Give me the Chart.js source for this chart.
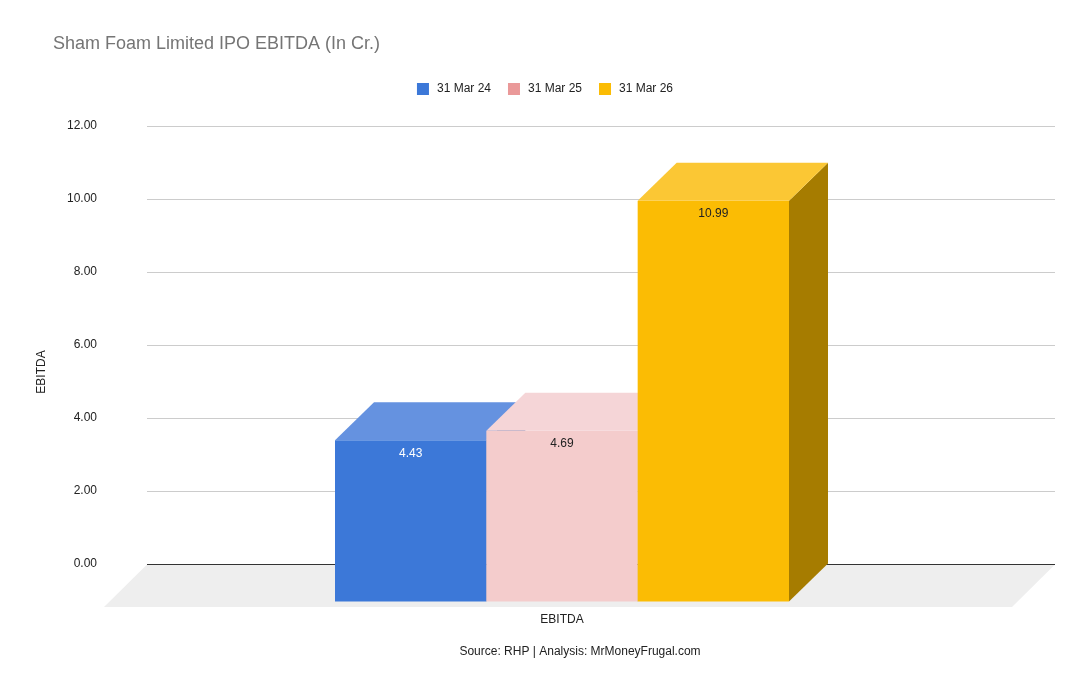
<!DOCTYPE html>
<html lang="en">
<head>
    <meta charset="UTF-8">
    <title>Sham Foam Limited IPO EBITDA</title>
    <style>
        body {
            margin: 0;
            background-color: #fff;
        }
        #chart-container {
            width: 1090px;
            height: 694px;
        }
    </style>
    <script src="https://cdn.jsdelivr.net/npm/chart.js"></script>
</head>
<body>
    <div id="chart-container">
        <canvas id="ebitda-chart"></canvas>
    </div>
    <script>
        const categories = ['EBITDA'];
        const seriesLabels = ['31 Mar 24', '31 Mar 25', '31 Mar 26'];
        const ebitda = [4.43, 4.69, 10.99];
        const yTicks = [0, 2, 4, 6, 8, 10, 12];

        const legendColors = ['#3c78d8', '#ea9999', '#fbbc04'];
        const frontColors = ['#3c78d8', '#f4cccc', '#fbbc04'];
        const topColors = ['#6592e0', '#f5d5d7', '#fbc734'];
        const sideColors = ['#2b5cad', '#9a8a8a', '#a67c00'];
        const labelColors = ['#ffffff', '#222222', '#222222'];

        const FONT = '"Liberation Sans", Arial, sans-serif';
        const DEPTH_X = 39;     // bar depth offset
        const DEPTH_Y = 38;
        const FLOOR_DEPTH = 43; // floor depth offset

        function poly(ctx, pts, color) {
            ctx.beginPath();
            ctx.moveTo(pts[0][0], pts[0][1]);
            for (let i = 1; i < pts.length; i++) ctx.lineTo(pts[i][0], pts[i][1]);
            ctx.closePath();
            ctx.fillStyle = color;
            ctx.fill();
        }

        // floor, 3d boxes and all the extra text
        const boxes3d = {
            id: 'boxes3d',
            beforeDatasetsDraw(chart) {
                const ctx = chart.ctx;
                const area = chart.chartArea;
                const base = Math.round(chart.scales.y.getPixelForValue(0));
                ctx.save();
                poly(ctx, [
                    [area.left, base + 0.5],
                    [area.right, base + 0.5],
                    [area.right - FLOOR_DEPTH, base + FLOOR_DEPTH],
                    [area.left - FLOOR_DEPTH, base + FLOOR_DEPTH]
                ], '#eeeeee');
                // zero line back on top of the floor
                ctx.strokeStyle = '#333333';
                ctx.lineWidth = 1;
                ctx.beginPath();
                ctx.moveTo(area.left, base + 0.5);
                ctx.lineTo(area.right, base + 0.5);
                ctx.stroke();
                ctx.restore();
            },
            afterDatasetsDraw(chart) {
                const ctx = chart.ctx;
                ctx.save();
                chart.data.datasets.forEach((ds, i) => {
                    const bar = chart.getDatasetMeta(i).data[0];
                    const xl = bar.x - bar.width / 2;
                    const xr = bar.x + bar.width / 2;
                    const top = bar.y;
                    const base = bar.base;
                    const dx = DEPTH_X, dy = DEPTH_Y;
                    poly(ctx, [[xr - dx, top + dy], [xr, top], [xr, base], [xr - dx, base + dy]], sideColors[i]);
                    poly(ctx, [[xl - dx, top + dy], [xl, top], [xr, top], [xr - dx, top + dy]], topColors[i]);
                    ctx.fillStyle = frontColors[i];
                    ctx.fillRect(xl - dx, top + dy, bar.width, base - top);

                    ctx.font = '12px ' + FONT;
                    ctx.fillStyle = labelColors[i];
                    ctx.textAlign = 'center';
                    ctx.textBaseline = 'middle';
                    ctx.fillText(ds.data[0].toFixed(2), bar.x - dx, top + dy + 13);
                });

                // category label under the floor
                const xScale = chart.scales.x;
                ctx.font = '12px ' + FONT;
                ctx.fillStyle = '#222222';
                ctx.textAlign = 'center';
                ctx.textBaseline = 'middle';
                categories.forEach((c, i) => {
                    ctx.fillText(c, xScale.getPixelForValue(i) - DEPTH_X, 620);
                });

                // footer
                ctx.fillText('Source: RHP | Analysis: MrMoneyFrugal.com', 580, 652);

                // y axis title
                ctx.save();
                ctx.translate(42, 372);
                ctx.rotate(-Math.PI / 2);
                ctx.fillText('EBITDA', 0, 0);
                ctx.restore();

                // title
                ctx.font = '18px ' + FONT;
                ctx.fillStyle = '#757575';
                ctx.textAlign = 'left';
                ctx.fillText('Sham Foam Limited IPO EBITDA (In Cr.)', 53, 44);

                // legend
                ctx.font = '12px ' + FONT;
                const box = 12, gapText = 8, gapItem = 17;
                const widths = seriesLabels.map(t => box + gapText + ctx.measureText(t).width);
                const total = widths.reduce((a, b) => a + b, 0) + gapItem * (widths.length - 1);
                let x = 545 - total / 2;
                seriesLabels.forEach((t, i) => {
                    ctx.fillStyle = legendColors[i];
                    ctx.fillRect(x, 83, box, box);
                    ctx.fillStyle = '#222222';
                    ctx.fillText(t, x + box + gapText, 89);
                    x += widths[i] + gapItem;
                });
                ctx.restore();
            }
        };

        const ctx = document.getElementById('ebitda-chart').getContext('2d');
        const chart = new Chart(ctx, {
            type: 'bar',
            data: {
                labels: categories,
                datasets: seriesLabels.map((label, i) => ({
                    label: label,
                    data: [ebitda[i]],
                    backgroundColor: 'rgba(0,0,0,0)',
                    borderWidth: 0,
                    categoryPercentage: 0.5,
                    barPercentage: 1.0
                }))
            },
            options: {
                responsive: true,
                maintainAspectRatio: false,
                animation: false,
                layout: {
                    padding: { left: 0, right: 35, top: 126, bottom: 130 }
                },
                plugins: {
                    legend: { display: false },
                    title: { display: false },
                    tooltip: { enabled: false }
                },
                scales: {
                    x: {
                        display: false
                    },
                    y: {
                        min: yTicks[0],
                        max: yTicks[yTicks.length - 1],
                        afterFit(scale) {
                            scale.width = 147;
                        },
                        afterBuildTicks(scale) {
                            scale.ticks = yTicks.map(v => ({ value: v }));
                        },
                        border: { display: false },
                        grid: {
                            drawTicks: false,
                            color: c => (c.tick && c.tick.value === 0) ? '#333333' : '#cccccc',
                            lineWidth: 1
                        },
                        ticks: {
                            padding: 50,
                            color: '#222222',
                            font: { family: FONT, size: 12 },
                            callback: v => Number(v).toFixed(2)
                        }
                    }
                }
            },
            plugins: [boxes3d]
        });
    </script>
</body>
</html>
